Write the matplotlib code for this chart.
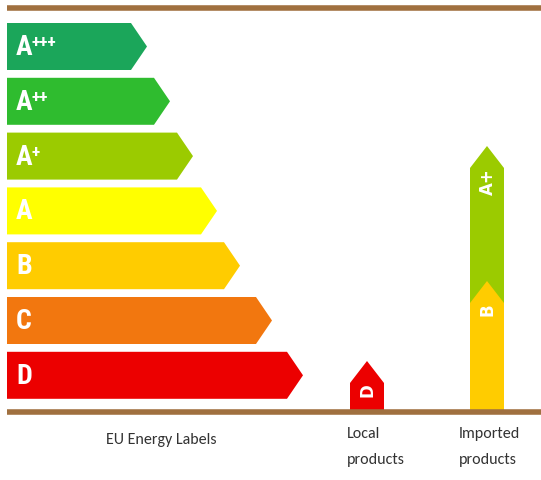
import matplotlib
matplotlib.use("Agg")
import matplotlib.pyplot as plt
from matplotlib.patches import Polygon
from matplotlib import font_manager

# --- data ---
ratings = ['A+++', 'A++', 'A+', 'A', 'B', 'C', 'D']
rating_colors = ['#1ba65a', '#2fbc2f', '#9bcb00', '#ffff00', '#ffcc00', '#f2770f', '#ec0000']
ladder_length = [140, 163, 186, 210, 233, 265, 296]   # arrow length of each label class

local_ratings = ['D']
local_height = [51]
imported_ratings = ['A+', 'B']          # drawn back to front
imported_height = [266, 131]

groups = ['EU Energy Labels', 'Local\nproducts', 'Imported\nproducts']

color_of = dict(zip(ratings, rating_colors))

# pick narrow fonts that exist on this machine
installed = {f.name for f in font_manager.fontManager.ttflist}
def first_of(*cands):
    for c in cands:
        if c in installed:
            return c
    return 'DejaVu Sans'

label_font = first_of('Carlito', 'PT Sans Narrow', 'Open Sans Condensed', 'Roboto Condensed')
badge_font = first_of('Roboto Condensed', 'PT Sans Narrow', 'Open Sans Condensed')

fig = plt.figure(figsize=(5.41, 4.80), dpi=100)
ax = fig.add_axes([0, 0, 1, 1])
ax.set_xlim(0, 541)
ax.set_ylim(0, 480)
ax.axis('off')

base = 68
brown = '#a0703f'
ax.plot([7, 541], [base, base], color=brown, lw=4, solid_capstyle='butt', zorder=5)
ax.plot([7, 541], [472, 472], color=brown, lw=4, solid_capstyle='butt', zorder=5)

# horizontal rating ladder
x0, bar_h, step, tip = 7, 47, 54.8, 16
for i, (lab, L) in enumerate(zip(ratings, ladder_length)):
    top = 457 - step * i
    bot = top - bar_h
    mid = (top + bot) / 2
    pts = [(x0, bot), (x0 + L - tip, bot), (x0 + L, mid), (x0 + L - tip, top), (x0, top)]
    ax.add_patch(Polygon(pts, closed=True, facecolor=color_of[lab], edgecolor='none'))
    letter, plus = lab[0], lab[1:]
    ax.text(x0 + 9, mid - 1, letter, color='white', fontsize=20, fontweight='bold',
            ha='left', va='center', family=badge_font)
    if plus:
        ax.text(x0 + 25, mid + 4, plus, color='white', fontsize=12.5, fontweight='bold',
                ha='left', va='center', family=badge_font)


def vertical_arrow(xc, height, lab, width=34, tip_h=22):
    left, right = xc - width / 2, xc + width / 2
    top = base + height
    pts = [(left, base + 2), (right, base + 2), (right, top - tip_h), (xc, top),
           (left, top - tip_h)]
    ax.add_patch(Polygon(pts, closed=True, facecolor=color_of[lab], edgecolor='none'))
    ax.text(xc + 1, top - 22, lab, color='white', fontsize=12, fontweight='bold',
            rotation=90, ha='center', va='top', family='DejaVu Sans')


for lab, h in zip(local_ratings, local_height):
    vertical_arrow(367, h, lab)
for lab, h in zip(imported_ratings, imported_height):
    vertical_arrow(487, h, lab)

# group captions
ax.text(161, 40, groups[0], color='#333333', fontsize=11.5, ha='center', va='center',
        family=label_font)
for x, g in zip([347, 459], groups[1:]):
    ax.text(x, 53, g, color='#333333', fontsize=11.5, ha='left', va='top',
            linespacing=2.05, family=label_font)

fig.savefig('out.png', dpi=100)
